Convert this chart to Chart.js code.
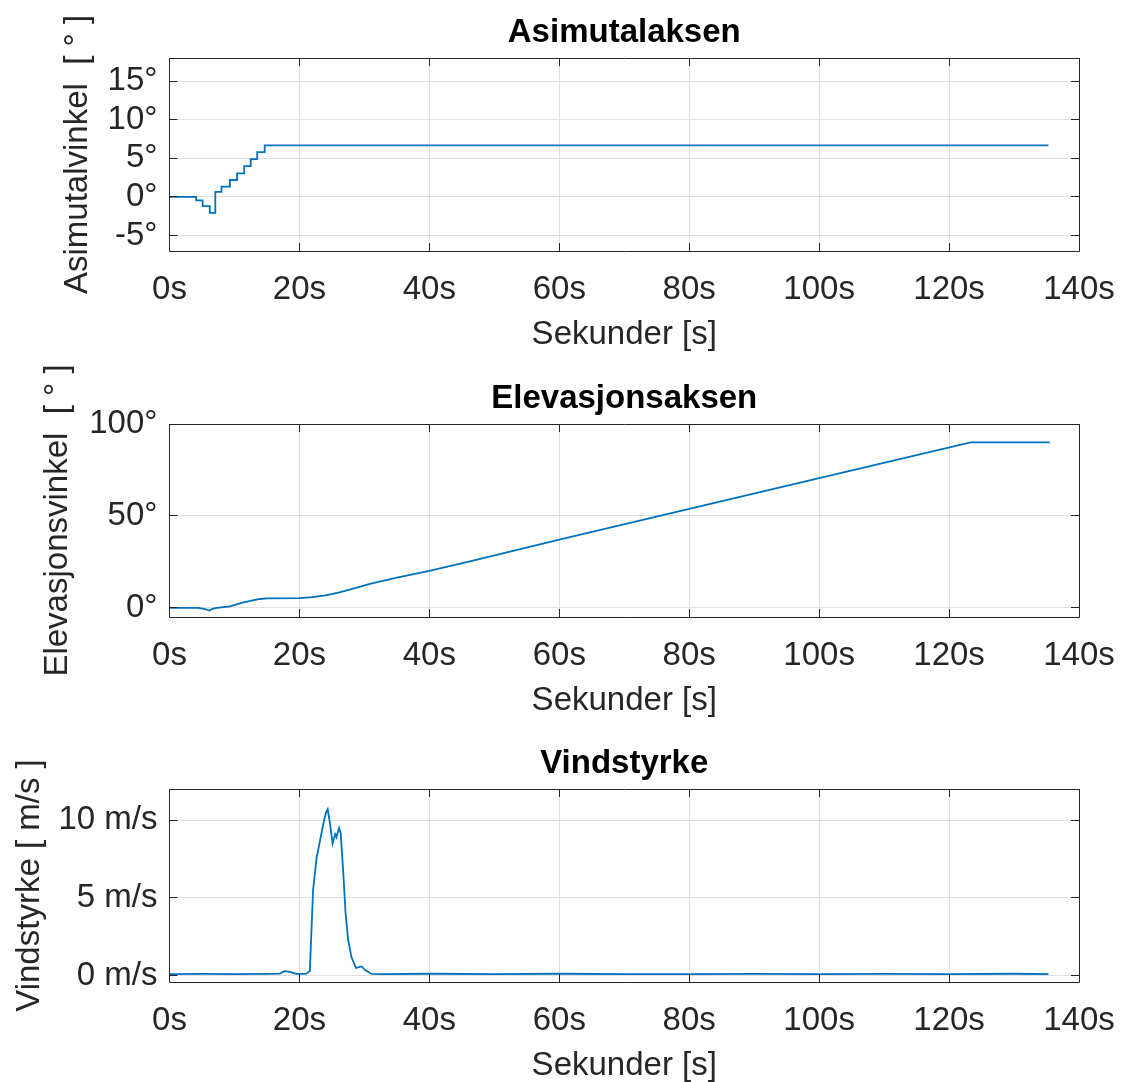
<!DOCTYPE html>
<html lang="no">
  <head>
    <meta charset="UTF-8" />
    <title>Asimutalaksen, Elevasjonsaksen, Vindstyrke</title>
    <script src="https://cdn.jsdelivr.net/npm/chart.js@4.4.0/dist/chart.umd.min.js"></script>
    <style>
      body {
        margin: 0;
        background-color: white;
        overflow: hidden;
      }
      .panel {
        position: absolute;
        left: 0;
      }
    </style>
  </head>

  <body>
    <canvas id="azChart" class="panel" width="1127" height="355" style="top: 0px"></canvas>
    <canvas id="elChart" class="panel" width="1127" height="355" style="top: 366px"></canvas>
    <canvas id="windChart" class="panel" width="1127" height="355" style="top: 731px"></canvas>

    <script>
      // felles x-akse (sekunder)
      const xTicks = [0, 20, 40, 60, 80, 100, 120, 140];

      // asimut: tidspunkt for hvert trinn og ny vinkel
      const azTime = [0, 4.1, 5.1, 6.2, 7.05, 8.0, 9.3, 10.4, 11.5, 12.5, 13.5, 14.65, 135.3];
      const azAngle = [0, -0.45, -1.2, -2.05, 0.65, 1.35, 2.2, 3.05, 4.0, 4.9, 5.8, 6.67, 6.67];
      const azTicks = [-5, 0, 5, 10, 15];

      // elevasjon
      const elTime = [0, 4.5, 5.6, 6.1, 6.6, 7.3, 9.3, 11.4, 13.9, 15, 20, 22, 24, 26, 28, 31, 35, 40, 46.4, 60, 80, 100, 123.3, 135.5];
      const elAngle = [0, 0, -0.8, -1.5, -0.6, 0, 0.8, 2.9, 4.8, 5.1, 5.3, 5.8, 6.8, 8.3, 10.2, 13.2, 16.4, 20.1, 25.4, 37.1, 53.8, 70.5, 90, 90];
      const elTicks = [0, 50, 100];

      // vindstyrke
      const windTime = [0, 5, 10, 15, 17, 17.7, 18.5, 19.5, 21.0, 21.6, 22.1, 22.65, 23.2, 23.7, 24.1, 24.35, 24.7, 25.1, 25.5, 25.7, 26.1, 26.35, 26.75, 27.1, 27.5, 28.0, 28.7, 29.6, 30.1, 31.1, 33, 40, 50, 60, 70, 80, 90, 100, 110, 120, 130, 135.3];
      const windSpeed = [0.1, 0.12, 0.1, 0.12, 0.14, 0.3, 0.25, 0.12, 0.12, 0.3, 5.5, 7.6, 8.75, 9.8, 10.5, 10.7, 9.8, 8.5, 9.1, 8.9, 9.5, 9.2, 6.6, 4.05, 2.3, 1.2, 0.5, 0.6, 0.37, 0.12, 0.1, 0.13, 0.1, 0.13, 0.1, 0.1, 0.12, 0.1, 0.12, 0.1, 0.13, 0.1];
      const windTicks = [0, 5, 10];

      Chart.defaults.font.family = '"Liberation Sans", Arial, sans-serif';
      Chart.defaults.font.size = 33;
      Chart.defaults.color = "#262626";

      // tittel sentrert over plottområdet, som i MATLAB
      const centerTitle = {
        id: "centerTitle",
        afterLayout(chart) {
          const t = chart.titleBlock;
          if (!t) return;
          t.left = chart.chartArea.left;
          t.right = chart.chartArea.right;
          t.width = t.right - t.left;
        },
      };

      // ramme rundt plottet og korte tick-streker innover på alle sider
      const boxTicks = {
        id: "boxTicks",
        afterDatasetsDraw(chart) {
          const { ctx, chartArea: a, scales } = chart;
          const len = 8;
          ctx.save();
          ctx.strokeStyle = "#262626";
          ctx.lineWidth = 1;
          ctx.beginPath();
          scales.x.ticks.forEach((t) => {
            const px = Math.round(scales.x.getPixelForValue(t.value) - 0.5) + 0.5;
            ctx.moveTo(px, a.bottom);
            ctx.lineTo(px, a.bottom - len);
            ctx.moveTo(px, a.top);
            ctx.lineTo(px, a.top + len);
          });
          scales.y.ticks.forEach((t) => {
            const py = Math.round(scales.y.getPixelForValue(t.value) - 0.5) + 0.5;
            ctx.moveTo(a.left, py);
            ctx.lineTo(a.left + len, py);
            ctx.moveTo(a.right, py);
            ctx.lineTo(a.right - len, py);
          });
          ctx.rect(Math.round(a.left - 0.5) + 0.5, Math.round(a.top - 0.5) + 0.5, Math.round(a.right - a.left), Math.round(a.bottom - a.top));
          ctx.stroke();
          ctx.restore();
        },
      };

      function makeChart(id, cfg) {
        const points = cfg.time.map((t, i) => ({ x: t, y: cfg.values[i] }));
        return new Chart(document.getElementById(id), {
          type: "line",
          data: {
            datasets: [
              {
                data: points,
                borderColor: "#0072bd",
                borderWidth: 1.8,
                pointRadius: 0,
                stepped: cfg.stepped || false,
                tension: 0,
              },
            ],
          },
          options: {
            responsive: false,
            animation: false,
            layout: { padding: { left: 0, right: 48, top: 0, bottom: 0 } },
            plugins: {
              legend: { display: false },
              tooltip: { enabled: false },
              title: {
                display: true,
                text: cfg.title,
                color: "#000",
                font: { size: 33, weight: "bold" },
                padding: { top: 13.2, bottom: 5.2 },
              },
            },
            scales: {
              x: {
                type: "linear",
                min: 0,
                max: 140,
                afterBuildTicks: (s) => {
                  s.ticks = xTicks.map((v) => ({ value: v }));
                },
                afterFit: (s) => {
                  s.height = 104;
                  s.paddingLeft = 0;
                  s.paddingRight = 0;
                },
                grid: { color: "#dfdfdf", drawTicks: false },
                border: { display: false },
                ticks: {
                  padding: 18.8,
                  maxRotation: 0,
                  callback: (v) => v + "s",
                },
                title: {
                  display: true,
                  text: "Sekunder [s]",
                  padding: { top: 0, bottom: 0 },
                },
              },
              y: {
                type: "linear",
                min: cfg.min,
                max: cfg.max,
                afterBuildTicks: (s) => {
                  s.ticks = cfg.ticks.map((v) => ({ value: v }));
                },
                afterFit: (s) => {
                  s.width = 169.5;
                  s.paddingTop = 0;
                  s.paddingBottom = 0;
                },
                grid: { color: "#dfdfdf", drawTicks: false },
                border: { display: false },
                ticks: {
                  padding: 12,
                  callback: cfg.tickLabel,
                },
                title: {
                  display: true,
                  text: cfg.yTitle,
                  padding: { top: cfg.yTitlePad, bottom: 0 },
                },
              },
            },
          },
          plugins: [centerTitle, boxTicks],
        });
      }

      makeChart("azChart", {
        title: "Asimutalaksen",
        yTitle: "Asimutalvinkel  [ ° ]",
        yTitlePad: 58.2,
        time: azTime,
        values: azAngle,
        stepped: "before",
        min: -7,
        max: 18,
        ticks: azTicks,
        tickLabel: (v) => v + "°",
      });

      makeChart("elChart", {
        title: "Elevasjonsaksen",
        yTitle: "Elevasjonsvinkel  [ ° ]",
        yTitlePad: 38.2,
        time: elTime,
        values: elAngle,
        min: -5,
        max: 100,
        ticks: elTicks,
        tickLabel: (v) => v + "°",
      });

      makeChart("windChart", {
        title: "Vindstyrke",
        yTitle: "Vindstyrke [ m/s ]",
        yTitlePad: 9.7,
        time: windTime,
        values: windSpeed,
        min: -0.4,
        max: 12,
        ticks: windTicks,
        tickLabel: (v) => v + " m/s",
      });
    </script>
  </body>
</html>
